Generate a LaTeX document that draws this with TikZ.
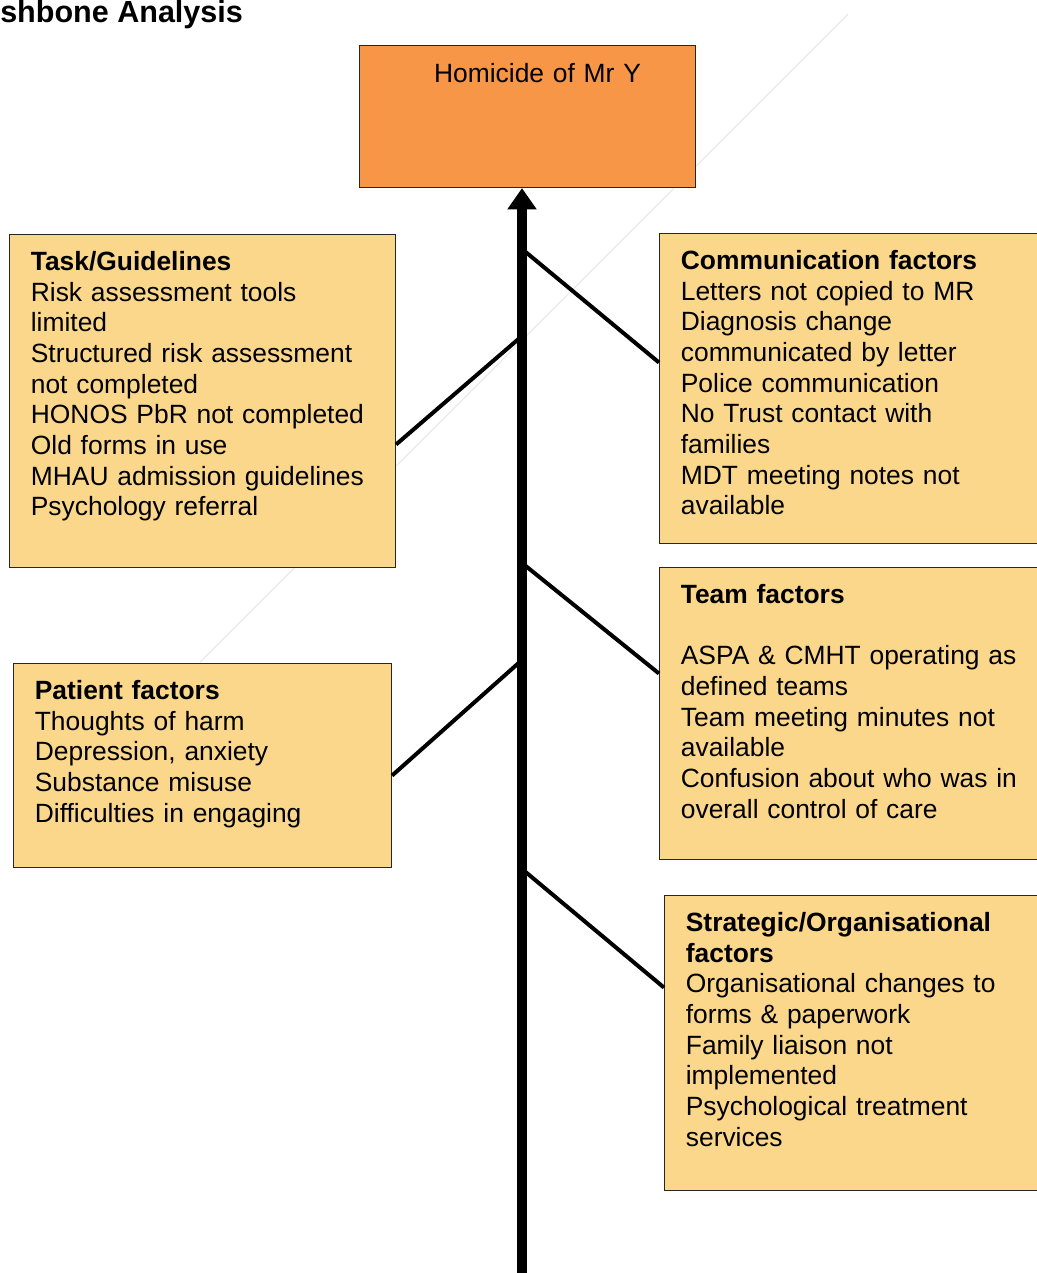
\documentclass[tikz,border=0pt]{standalone}
\usepackage{fontspec}
\setmainfont{Liberation Sans}
\usetikzlibrary{arrows.meta,positioning}
\definecolor{color1}{HTML}{F79646}
\definecolor{color2}{HTML}{FAD78B}

\begin{document}
\begin{tikzpicture}[
  x=0.75pt,
  y=-0.75pt,
  effect/.style={draw=black!85, fill=color1, line width=0.8pt, anchor=north west, align=center, text width=220pt, inner xsep=16pt, inner ysep=7.75pt, text height=20pt, text depth=71pt},
  cause/.style={draw=black!85, fill=color2, line width=0.8pt, anchor=north west, align=left, inner xsep=16pt, inner ysep=7pt, text height=20pt},
  spine/.style={line width=7.5pt, -{Triangle[width=21pt,length=16pt]}},
  bone/.style={line width=3pt},
  ghost/.style={draw=black!9, line width=0.8pt},
  every node/.style={font=\fontsize{19.8}{23}\selectfont}
]
\useasboundingbox (0,0) rectangle (1036,1273);
\coordinate (g1) at (200,662);
\coordinate (g2) at (848,14);
\draw[ghost] (g1) -- (g2);

\node[font=\fontsize{22.9}{27}\selectfont\bfseries, anchor=base west, inner sep=0pt] (title) at (0,23) {shbone Analysis};
\node[effect] (homicide) at (359,45) {\hspace*{15pt}Homicide of Mr Y};

\node[cause, text width=257.5pt, text depth=215.75pt] (task) at (9,234) {\textbf{Task/Guidelines}\\Risk assessment tools\\limited\\Structured risk assessment\\not completed\\HONOS PbR not completed\\Old forms in use\\MHAU admission guidelines\\Psychology referral};
\node[cause, text width=251.5pt, text depth=119pt] (patient) at (13,663) {\textbf{Patient factors}\\Thoughts of harm\\Depression, anxiety\\Substance misuse\\Difficulties in engaging};
\node[cause, text width=257.5pt, text depth=198.5pt] (comm) at (659,233) {\textbf{Communication factors}\\Letters not copied to MR\\Diagnosis change\\communicated by letter\\Police communication\\No Trust contact with\\families\\MDT meeting notes not\\available};
\node[cause, text width=257.5pt, text depth=185pt] (team) at (659,567) {\textbf{Team factors}\\[23pt]ASPA \& CMHT operating as\\defined teams\\Team meeting minutes not\\available\\Confusion about who was in\\overall control of care};
\node[cause, text width=253.75pt, text depth=187.25pt] (strategic) at (664,895) {\textbf{Strategic/Organisational}\\\textbf{factors}\\Organisational changes to\\forms \& paperwork\\Family liaison not\\implemented\\Psychological treatment\\services};

\coordinate (tail) at (522,1280);
\coordinate (jcomm) at (522,249);
\coordinate (jtask) at (522,336);
\coordinate (jteam) at (522,563);
\coordinate (jpatient) at (522,660);
\coordinate (jstrategic) at (522,869);
\draw[bone] (jcomm) -- ([yshift=19.5pt]comm.west);
\draw[bone] (jtask) -- ([yshift=-32.6pt]task.east);
\draw[bone] (jteam) -- ([yshift=30pt]team.west);
\draw[bone] (jpatient) -- ([yshift=-7.5pt]patient.east);
\draw[bone] (jstrategic) -- ([yshift=41.6pt]strategic.west);
\draw[spine] (tail) -- (tail |- homicide.south);
\end{tikzpicture}
\end{document}
